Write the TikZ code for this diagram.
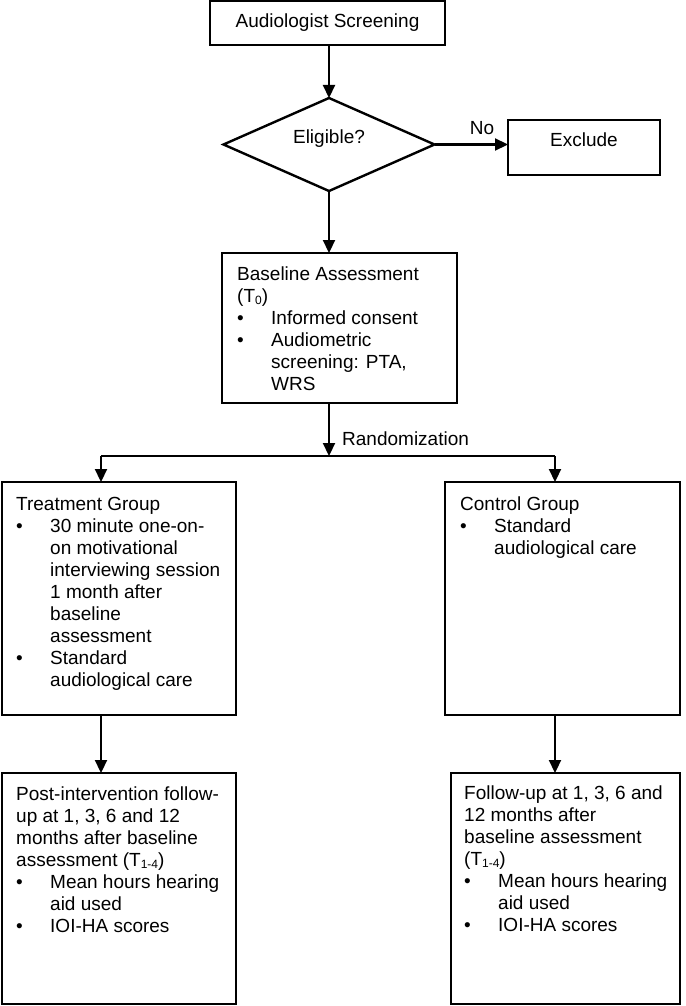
\documentclass[tikz,border=0pt]{standalone}
\usepackage{fontspec}
\setmainfont{Liberation Sans}
\usetikzlibrary{arrows.meta,shapes.geometric}
\newcommand{\bitm}[1]{\makebox[34pt][l]{\textbullet}#1}
\newcommand{\cont}[1]{\hspace*{34pt}#1}
\newcommand{\fst}{\rule{0pt}{15pt}}
\newcommand{\sbs}[1]{\raisebox{-2.5pt}{\fontsize{12}{12}\selectfont #1}}
\tikzset{
  box/.style={draw, rectangle, line width=2.6pt, inner sep=0pt, outer sep=0pt, anchor=north west},
  txt/.style={anchor=north west, inner sep=0pt, align=left, font=\fontsize{19}{22}\selectfont},
  lbl/.style={inner sep=0pt, font=\fontsize{19}{22}\selectfont},
  arr/.style={line width=2.2pt, -{Triangle[length=13pt,width=12pt]}},
  split/.style={line width=1.5pt}
}
\begin{document}
\begin{tikzpicture}[x=1pt,y=-1pt]
\useasboundingbox[fill=white] (0,0) rectangle (685,1006);
% boxes
\node[box, minimum width=235pt, minimum height=44pt, anchor=center, font=\fontsize{19}{22}\selectfont] (screen) at (327.5,23) {Audiologist Screening};
\node[draw, diamond, line width=2.4pt, aspect=2.27, minimum width=211pt, minimum height=93pt, inner sep=0pt, outer sep=0pt, text height=14pt, text depth=15.4pt, font=\fontsize{19}{22}\selectfont] (diam) at (329,144.5) {Eligible?};
\node[box, minimum width=152pt, minimum height=55pt, anchor=center, text height=14pt, text depth=15.4pt, font=\fontsize{19}{22}\selectfont] (excl) at (584,147.5) {Exclude};
\node[box, minimum width=235pt, minimum height=150pt] (base) at (222,253) {};
\node[box, minimum width=234pt, minimum height=233pt] (treat) at (2,482) {};
\node[box, minimum width=235pt, minimum height=233pt] (ctrl) at (445,482) {};
\node[box, minimum width=234pt, minimum height=231pt] (post) at (2,773) {};
\node[box, minimum width=229pt, minimum height=231pt] (follow) at (451,773) {};
% texts
\node[txt] (basetxt) at (237,265) {\fst Baseline Assessment\\(T\sbs{0})\\\bitm{Informed consent}\\\bitm{Audiometric}\\\cont{screening: PTA,}\\\cont{WRS}};
\node[txt] (treattxt) at (16,495) {\fst Treatment Group\\\bitm{30 minute one-on-}\\\cont{on motivational}\\\cont{interviewing session}\\\cont{1 month after}\\\cont{baseline}\\\cont{assessment}\\\bitm{Standard}\\\cont{audiological care}};
\node[txt] (ctrltxt) at (460,495) {\fst Control Group\\\bitm{Standard}\\\cont{audiological care}};
\node[txt] (posttxt) at (16,785) {\fst Post-intervention follow-\\up at 1, 3, 6 and 12\\months after baseline\\assessment (T\sbs{1-4})\\\bitm{Mean hours hearing}\\\cont{aid used}\\\bitm{IOI-HA scores}};
\node[txt] (followtxt) at (464,784) {\fst Follow-up at 1, 3, 6 and\\12 months after\\baseline assessment\\(T\sbs{1-4})\\\bitm{Mean hours hearing}\\\cont{aid used}\\\bitm{IOI-HA scores}};
\node[lbl] (no) at (482,128.5) {No};
\node[lbl, anchor=west] (rand) at (342,439) {Randomization};
% connector points
\coordinate (mid) at (329,456);
\coordinate (lsp) at (101,456);
\coordinate (rsp) at (555,456);
% connectors
\draw[arr] (screen.south -| diam.north) -- (diam.north);
\draw[arr] (diam.east) -- (diam.east -| excl.west);
\draw[arr] (diam.south) -- (diam.south |- base.north);
\draw[arr] (diam.south |- base.south) -- (mid);
\draw[split] (lsp) -- (rsp);
\draw[arr] (lsp) -- (lsp |- treat.north);
\draw[arr] (rsp) -- (rsp |- ctrl.north);
\draw[arr] (lsp |- treat.south) -- (lsp |- post.north);
\draw[arr] (rsp |- ctrl.south) -- (rsp |- follow.north);
\end{tikzpicture}
\end{document}
